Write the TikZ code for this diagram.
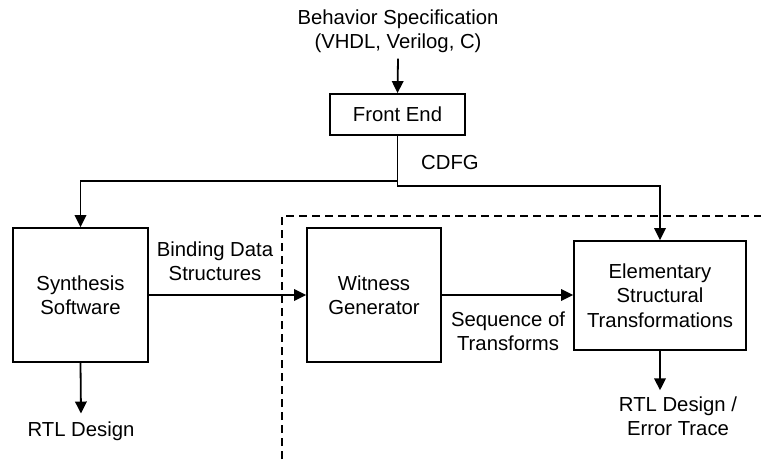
\documentclass[tikz,border=0pt]{standalone}
\usepackage{fontspec}
\setmainfont{Liberation Sans}
\usepackage{tikz}
\usetikzlibrary{arrows.meta,positioning,calc}

\begin{document}
\begin{tikzpicture}[
  x=1pt,y=-1pt,
  font=\fontsize{20.3}{24.5}\selectfont,
  block/.style={draw,line width=1.8pt,align=center,inner sep=2pt},
  lab/.style={align=center,inner sep=2pt},
  flow/.style={line width=1.8pt,-{Triangle[length=12pt,width=11.5pt]}},
  region/.style={line width=1.5pt,dash pattern=on 8pt off 5pt}
]
  \useasboundingbox (0,0) rectangle (761,459);
  \node[lab,outer sep=4pt] (spec) at (398,31) {Behavior Specification\\(VHDL, Verilog, C)};
  \node[block,minimum width=135,minimum height=41] (fe) at (397.5,114.5) {Front End};
  \node[block,minimum width=135,minimum height=134] (synth) at (80.5,295) {Synthesis\\Software};
  \node[block,minimum width=134,minimum height=134] (wit) at (374,295) {Witness\\Generator};
  \node[block,minimum width=172,minimum height=109] (est) at (660,295.5) {Elementary\\Structural\\Transformations};
  \node[lab] (cdfg) at (450,163) {CDFG};
  \node[lab] (bind) at (215,261) {Binding Data\\Structures};
  \node[lab] (seq) at (508,331) {Sequence of\\Transforms};
  \node[lab,outer sep=6pt] (rtl) at (81,431) {RTL Design};
  \node[lab,outer sep=4pt] (rtlerr) at (678,416) {RTL Design /\\Error Trace};

  \draw[region] (282,459) -- (282,216) -- (761,216);

  \draw[flow] (spec.south) -- (fe.north);
  \draw[flow] (fe.south) -- (fe.south |- 0,181) -| (synth.north);
  \draw[flow] (fe.south) -- (fe.south |- 0,186) -| (est.north);
  \draw[flow] (synth.east) -- (wit.west);
  \draw[flow] (wit.east) -- (wit.east -| est.west);
  \draw[flow] (synth.south) -- (rtl.north);
  \draw[flow] (est.south) -- (est.south |- rtlerr.north);
\end{tikzpicture}
\end{document}
